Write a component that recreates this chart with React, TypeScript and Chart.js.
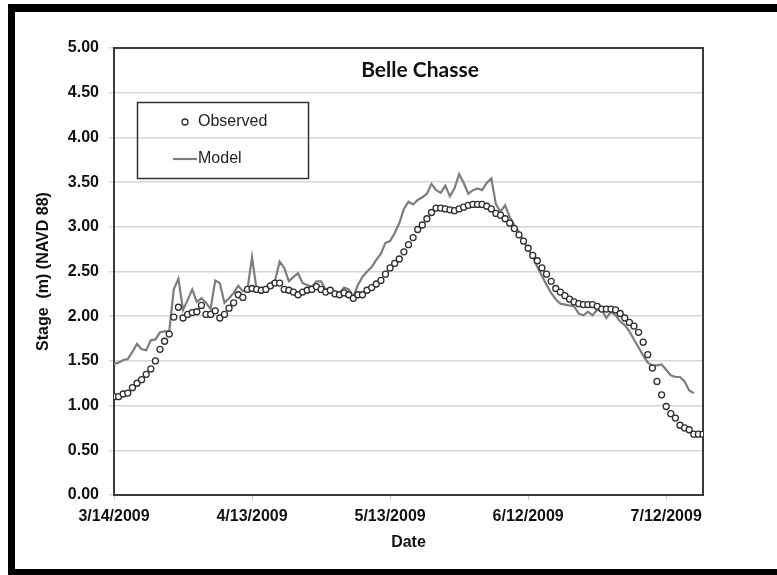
import { useEffect, useRef } from "react";
import { Chart, registerables } from "chart.js";

Chart.register(...registerables);

// Daily stage readings beginning 3/14/2009 (index = days since start)
const OBSERVED = [
  1.10, 1.10, 1.13, 1.14, 1.20, 1.25, 1.29, 1.35, 1.41, 1.50,
  1.63, 1.72, 1.80, 1.99, 2.10, 1.98, 2.02, 2.04, 2.05, 2.12,
  2.02, 2.02, 2.06, 1.98, 2.02, 2.09, 2.15, 2.24, 2.21, 2.30,
  2.31, 2.30, 2.29, 2.30, 2.34, 2.37, 2.37, 2.30, 2.29, 2.27,
  2.24, 2.27, 2.29, 2.30, 2.33, 2.30, 2.27, 2.29, 2.25, 2.24,
  2.26, 2.24, 2.20, 2.24, 2.24, 2.29, 2.32, 2.36, 2.40, 2.47,
  2.54, 2.59, 2.64, 2.72, 2.80, 2.88, 2.97, 3.02, 3.09, 3.16,
  3.21, 3.21, 3.20, 3.19, 3.18, 3.20, 3.22, 3.24, 3.25, 3.25,
  3.25, 3.23, 3.20, 3.15, 3.13, 3.09, 3.04, 2.98, 2.91, 2.84,
  2.76, 2.68, 2.62, 2.54, 2.47, 2.39, 2.31, 2.27, 2.23, 2.19,
  2.16, 2.14, 2.13, 2.13, 2.13, 2.11, 2.08, 2.08, 2.08, 2.07,
  2.03, 1.98, 1.93, 1.89, 1.82, 1.71, 1.57, 1.42, 1.27, 1.12,
  0.99, 0.91, 0.86, 0.78, 0.75, 0.73, 0.68, 0.68, 0.68,
];

const MODEL = [
  1.47, 1.48, 1.51, 1.52, 1.60, 1.69, 1.63, 1.62, 1.73, 1.74,
  1.82, 1.83, 1.83, 2.30, 2.42, 2.07, 2.18, 2.30, 2.16, 2.20,
  2.15, 2.08, 2.40, 2.37, 2.15, 2.20, 2.26, 2.34, 2.28, 2.30,
  2.66, 2.29, 2.26, 2.32, 2.37, 2.40, 2.61, 2.54, 2.39, 2.44,
  2.48, 2.37, 2.35, 2.33, 2.39, 2.39, 2.30, 2.30, 2.28, 2.26,
  2.32, 2.30, 2.22, 2.35, 2.44, 2.50, 2.55, 2.63, 2.70, 2.82,
  2.84, 2.93, 3.04, 3.20, 3.28, 3.25, 3.30, 3.33, 3.37, 3.48,
  3.41, 3.38, 3.46, 3.34, 3.43, 3.59, 3.49, 3.37, 3.41, 3.43,
  3.41, 3.49, 3.54, 3.25, 3.17, 3.24, 3.11, 3.02, 2.94, 2.84,
  2.75, 2.67, 2.55, 2.45, 2.35, 2.26, 2.19, 2.14, 2.13, 2.12,
  2.11, 2.03, 2.01, 2.05, 2.01, 2.07, 2.07, 1.98, 2.05, 2.01,
  1.94, 1.90, 1.83, 1.74, 1.65, 1.56, 1.48, 1.45, 1.45, 1.46,
  1.40, 1.34, 1.32, 1.32, 1.27, 1.17, 1.14,
];

// Date axis: days since 3/14/2009, labelled every 30 days
const X_MAX_DAY = 128;
const TICK_DAYS = [0, 30, 60, 90, 120];
const TICK_LABELS = ["3/14/2009", "4/13/2009", "5/13/2009", "6/12/2009", "7/12/2009"];
const Y_TICKS = [0, 0.5, 1, 1.5, 2, 2.5, 3, 3.5, 4, 4.5, 5];

const TITLE = "Belle Chasse";
const SERIES_NAMES = ["Observed", "Model"];
const Y_TITLE = "Stage  (m) (NAVD 88)";
const X_TITLE = "Date";

const OBS_EDGE = "#2e2e2e";
const MODEL_COLOR = "#7d7d7d";
const AXIS_FONT = "'Liberation Sans', Arial, sans-serif";

const decorPlugin = {
  id: "decor",
  beforeDraw(chart: any) {
    const { ctx, width, height } = chart;
    ctx.save();
    ctx.fillStyle = "#ffffff";
    ctx.fillRect(0, 0, width, height);
    // outer black frame (open on the right side)
    ctx.fillStyle = "#000000";
    ctx.fillRect(8, 4, width - 8, 8);
    ctx.fillRect(8, 4, 7, height - 4);
    ctx.fillRect(8, height - 6, width - 8, 6);
    ctx.restore();
  },
  beforeDatasetsDraw(chart: any) {
    const { ctx, chartArea: ca } = chart;
    ctx.save();
    ctx.strokeStyle = "#3a3a3a";
    ctx.lineWidth = 2;
    ctx.strokeRect(ca.left, ca.top, ca.right - ca.left, ca.bottom - ca.top);
    ctx.restore();
  },
  afterDraw(chart: any) {
    const { ctx, chartArea: ca } = chart;
    ctx.save();
    // chart title inside the plot area
    ctx.fillStyle = "#111111";
    ctx.font = "bold 21px Lato, 'Open Sans', sans-serif";
    ctx.textAlign = "center";
    ctx.textBaseline = "middle";
    ctx.fillText(TITLE, ca.left + 306, ca.top + 22);

    // legend box
    const bx = ca.left + 23;
    const by = ca.top + 54;
    ctx.strokeStyle = "#333333";
    ctx.lineWidth = 1.5;
    ctx.strokeRect(bx + 0.5, by + 0.5, 171, 76);

    ctx.fillStyle = "#ffffff";
    ctx.strokeStyle = OBS_EDGE;
    ctx.lineWidth = 1.3;
    ctx.beginPath();
    ctx.arc(bx + 48, by + 20, 3, 0, Math.PI * 2);
    ctx.fill();
    ctx.stroke();

    ctx.strokeStyle = MODEL_COLOR;
    ctx.lineWidth = 2.2;
    ctx.beginPath();
    ctx.moveTo(bx + 36, by + 57);
    ctx.lineTo(bx + 60, by + 57);
    ctx.stroke();

    ctx.fillStyle = "#222222";
    ctx.font = `16px ${AXIS_FONT}`;
    ctx.textAlign = "left";
    ctx.textBaseline = "middle";
    ctx.fillText(SERIES_NAMES[0], bx + 61, by + 20);
    ctx.fillText(SERIES_NAMES[1], bx + 61, by + 57);
    ctx.restore();
  },
};

export default function App() {
  const canvasRef = useRef<HTMLCanvasElement | null>(null);

  useEffect(() => {
    const canvas = canvasRef.current;
    if (!canvas) return;

    const chart = new Chart(canvas, {
      type: "scatter",
      data: {
        datasets: [
          {
            label: SERIES_NAMES[1],
            data: MODEL.map((v, i) => ({ x: i, y: v })),
            showLine: true,
            borderColor: MODEL_COLOR,
            borderWidth: 2.2,
            pointRadius: 0,
            tension: 0,
            order: 2,
          },
          {
            label: SERIES_NAMES[0],
            data: OBSERVED.map((v, i) => ({ x: i, y: v })),
            showLine: false,
            pointStyle: "circle",
            pointRadius: 3,
            pointBorderWidth: 1.3,
            pointBorderColor: OBS_EDGE,
            pointBackgroundColor: "#ffffff",
            order: 1,
          },
        ],
      },
      options: {
        responsive: false,
        animation: false,
        layout: { padding: { left: 0, top: 48, right: 74, bottom: 20 } },
        plugins: {
          legend: { display: false },
          tooltip: { enabled: false },
          title: { display: false },
        },
        scales: {
          x: {
            type: "linear",
            min: 0,
            max: X_MAX_DAY,
            afterBuildTicks: (scale: any) => {
              scale.ticks = TICK_DAYS.map((v) => ({ value: v }));
            },
            afterFit: (scale: any) => {
              scale.height = 60;
            },
            grid: {
              drawOnChartArea: false,
              drawTicks: true,
              tickLength: 5,
              color: "#c8c8c8",
            },
            border: { display: false },
            ticks: {
              padding: 7,
              maxRotation: 0,
              autoSkip: false,
              color: "#111111",
              font: { family: AXIS_FONT, size: 16, weight: "bold" },
              callback: (v: any) => {
                const i = TICK_DAYS.indexOf(Number(v));
                return i >= 0 ? TICK_LABELS[i] : "";
              },
            },
            title: {
              display: true,
              text: X_TITLE,
              color: "#111111",
              font: { family: AXIS_FONT, size: 16, weight: "bold" },
              padding: { top: 0, bottom: 3 },
            },
          },
          y: {
            type: "linear",
            min: 0,
            max: 5,
            afterBuildTicks: (scale: any) => {
              scale.ticks = Y_TICKS.map((v) => ({ value: v }));
            },
            afterFit: (scale: any) => {
              scale.width = 114;
            },
            grid: {
              color: "#d6d6d6",
              lineWidth: 1.5,
              drawTicks: true,
              tickLength: 5,
            },
            border: { display: false },
            ticks: {
              padding: 10,
              color: "#111111",
              font: { family: AXIS_FONT, size: 16, weight: "bold" },
              callback: (v: any) => Number(v).toFixed(2),
            },
            title: {
              display: true,
              text: Y_TITLE,
              color: "#111111",
              font: { family: AXIS_FONT, size: 16, weight: "bold" },
              padding: { top: 34, bottom: 0 },
            },
          },
        },
      },
      plugins: [decorPlugin],
    });

    return () => chart.destroy();
  }, []);

  return (
    <div style={{ position: "fixed", left: 0, top: 0, width: 777, height: 575 }}>
      <canvas ref={canvasRef} width={777} height={575} style={{ display: "block" }} />
    </div>
  );
}
